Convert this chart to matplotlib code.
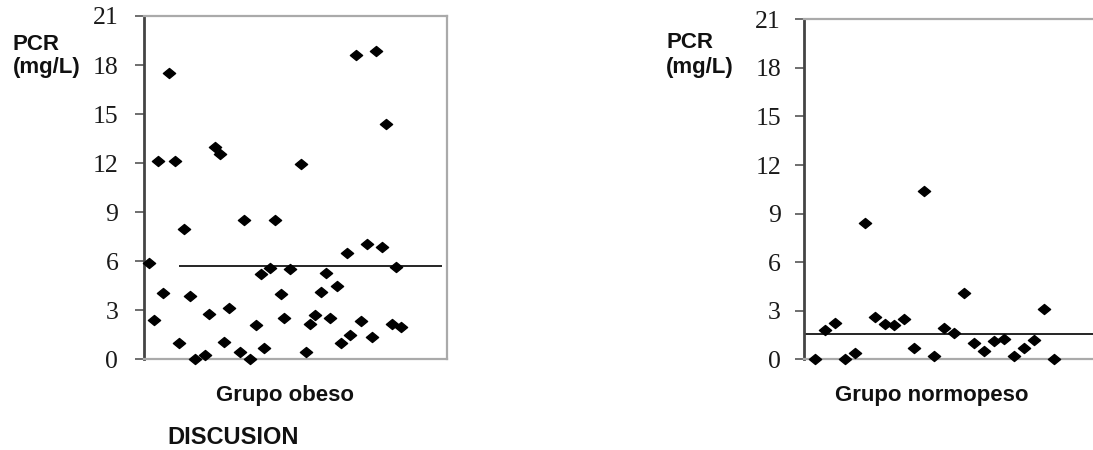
import numpy as np
import matplotlib.pyplot as plt
from matplotlib.path import Path

# PCR (mg/L) values
obeso_x = [1.0, 1.9, 2.7, 3.6, 4.7, 5.7, 6.5, 7.4, 8.5, 9.5, 11.3, 12.1, 13.2, 14.2, 15.0, 15.9,
           17.9, 18.7, 19.8, 20.8, 21.8, 22.4, 23.5, 24.5, 25.5, 26.1, 27.2, 29.2, 30.2, 30.9,
           31.9, 33.0, 34.0, 34.7, 35.9, 36.7, 37.8, 38.5, 39.5, 40.4, 41.5, 42.6, 43.2, 44.3,
           45.2, 46.3, 46.9, 48.0]
obeso_y = [5.91, 2.41, 12.11, 4.08, 17.53, 12.11, 1.02, 7.99, 3.89, 0.04, 0.24, 2.77, 13.0,
           12.54, 1.04, 3.12, 0.43, 8.52, 0.04, 2.08, 5.22, 0.67, 5.59, 8.52, 4.0, 2.51, 5.5,
           11.95, 0.43, 2.16, 2.69, 4.14, 5.3, 2.51, 4.5, 1.02, 6.52, 1.49, 18.59, 2.34, 7.03,
           1.37, 18.86, 6.87, 14.37, 2.18, 5.65, 2.0]
obeso_media = 5.73

normo_x = list(range(1, 26))
normo_y = [0.04, 1.81, 2.26, 0.04, 0.37, 8.44, 2.64, 2.18, 2.10, 2.51, 0.68, 10.42, 0.23, 1.91,
           1.61, 4.10, 1.03, 0.49, 1.13, 1.28, 0.23, 0.68, 1.19, 3.13, 0.04]
normo_media = 1.56

yticks = [0, 3, 6, 9, 12, 15, 18, 21]

# slightly flattened diamond like the original
diamond = Path([(-1, 0), (0, 0.82), (1, 0), (0, -0.82), (-1, 0)],
               [Path.MOVETO, Path.LINETO, Path.LINETO, Path.LINETO, Path.CLOSEPOLY])

fig = plt.figure(figsize=(10.93, 4.5), dpi=100)

def panel(rect, xs, ys, media, xlim, mline, right_spine, pad):
    ax = fig.add_axes(rect)
    ax.plot(xs, ys, linestyle='none', marker=diamond, markersize=8.8,
            color='black', zorder=3, clip_on=False)
    ax.hlines(media, mline[0], mline[1], color='black', linewidth=1.2, zorder=2)
    ax.set_xlim(*xlim)
    ax.set_ylim(0, 21)
    ax.set_yticks(yticks)
    ax.set_yticklabels([str(t) for t in yticks], family='Liberation Serif',
                       fontsize=18.5, color='#1a1a1a')
    ax.set_xticks([])
    ax.tick_params(axis='y', direction='out', length=6.5, width=1.2,
                   color='#555555', pad=pad)
    ax.spines['left'].set_color('#444444')
    ax.spines['left'].set_linewidth(2)
    for s in ['top', 'bottom', 'right']:
        ax.spines[s].set_color('#aaaaaa')
        ax.spines[s].set_linewidth(1.6)
    ax.spines['right'].set_visible(right_spine)
    return ax

ax1 = panel([144/1093, 1-359.3/450, 303/1093, 343.3/450], obeso_x, obeso_y, obeso_media,
            (0.0, 56.5), (6.5, 55.5), True, 12)
ax2 = panel([804/1093, 1-359.3/450, 289/1093, 340/450], normo_x, normo_y, normo_media,
            (-0.07, 28.9), (-0.07, 28.9), False, 10)

bold = dict(family='Liberation Sans', fontweight='bold', color='#111111')
fig.text(13/1093, 1-44/450, 'PCR', fontsize=16, ha='left', va='center', **bold)
fig.text(13/1093, 1-68/450, '(mg/L)', fontsize=16, ha='left', va='center', **bold)
fig.text(666/1093, 1-43/450, 'PCR', fontsize=16, ha='left', va='center', **bold)
fig.text(666/1093, 1-67/450, '(mg/L)', fontsize=16, ha='left', va='center', **bold)
fig.text(284.5/1093, 1-396/450, 'Grupo obeso', fontsize=16, ha='center', va='center', **bold)
fig.text(932/1093, 1-396/450, 'Grupo normopeso', fontsize=16, ha='center', va='center', **bold)
fig.text(167/1093, 1-437/450, 'DISCUSION', fontsize=17, ha='left', va='center', **bold)

plt.savefig('out.png', dpi=100)
